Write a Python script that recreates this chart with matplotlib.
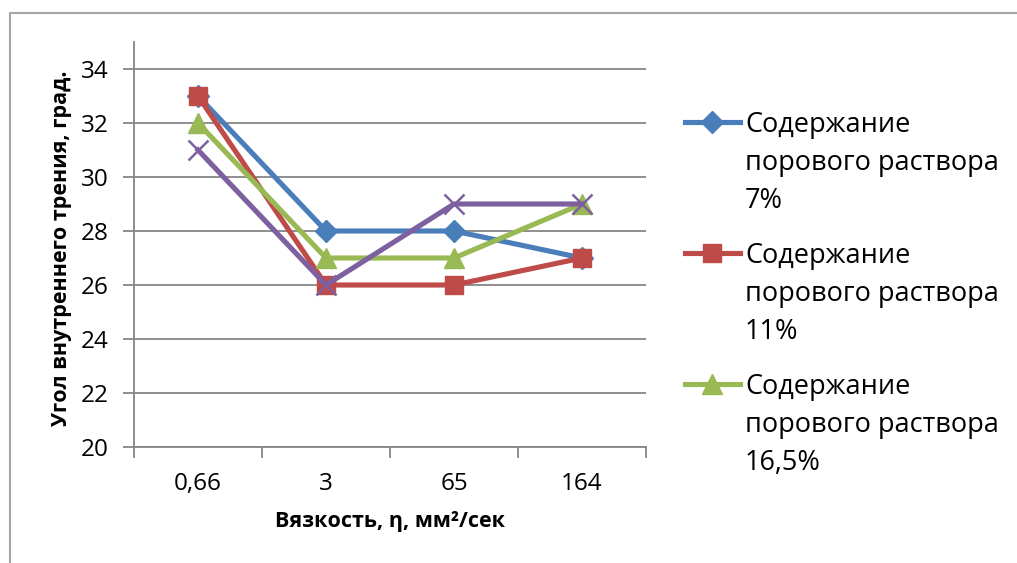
import matplotlib
matplotlib.use("Agg")
import matplotlib.pyplot as plt
from matplotlib.lines import Line2D
from matplotlib.patches import Rectangle

plt.rcParams['font.family'] = ['Open Sans', 'DejaVu Sans']

# Data
categories = ["0,66", "3", "65", "164"]
s7 = [33, 28, 28, 27]
s11 = [33, 26, 26, 27]
s165 = [32, 27, 27, 29]
s_extra = [31, 26, 29, 29]
legend_labels = [
    ["Содержание", "порового раствора", "7%"],
    ["Содержание", "порового раствора", "11%"],
    ["Содержание", "порового раствора", "16,5%"],
]
y_ticks = [20, 22, 24, 26, 28, 30, 32, 34]

W, H = 1017, 563
fig = plt.figure(figsize=(W / 100, H / 100), dpi=100)

# outer chart frame
fig.add_artist(Rectangle((10 / W, -0.1), 1.2, (H - 13) / H + 0.1,
                         transform=fig.transFigure, fill=False,
                         edgecolor="#A6A6A6", lw=1.5))

ax = fig.add_axes([134 / W, (H - 447) / H, 512 / W, 405 / H])

styles = [
    dict(color="#4A7EBB", marker="D", ms=11, mew=1),
    dict(color="#BE4B48", marker="s", ms=13.5, mew=1),
    dict(color="#98B954", marker="^", ms=14.5, mew=1),
    dict(color="#7D60A0", marker="x", ms=14, mew=1.8),
]
series = [s7, s11, s165, s_extra]
x = list(range(len(categories)))
for vals, st in zip(series, styles):
    ax.plot(x, vals, lw=3.7, color=st["color"], marker=st["marker"],
            ms=st["ms"], mew=st["mew"], mfc=st["color"], mec=st["color"],
            solid_joinstyle="round", clip_on=False, zorder=3)

ax.set_xlim(-0.5, len(categories) - 0.5)
ax.set_ylim(20, 35)
ax.set_yticks(y_ticks)
ax.tick_params(axis="y", length=8, width=1.3, color="#868686",
               labelsize=17.5, pad=10)
ax.grid(axis="y", color="#868686", lw=1.3)
ax.set_axisbelow(True)

# category boundaries carry ticks, category centres carry labels
ax.set_xticks([i - 0.5 for i in range(len(categories) + 1)])
ax.set_xticklabels([])
ax.set_xticks(x, minor=True)
ax.set_xticklabels(categories, minor=True)
ax.tick_params(axis="x", which="major", length=8, width=1.3, color="#868686")
ax.tick_params(axis="x", which="minor", length=0, labelsize=17.5, pad=18)

for side in ("top", "right"):
    ax.spines[side].set_visible(False)
for side in ("left", "bottom"):
    ax.spines[side].set_color("#868686")
    ax.spines[side].set_linewidth(1.3)

ax.set_ylabel("Угол внутреннего трения, град.", fontsize=15.5,
              fontweight="bold", va="center")
ax.yaxis.set_label_coords((62 - 134) / 512, 0.49)
ax.set_xlabel("Вязкость, η, мм²/сек", fontsize=15.5, fontweight="bold",
              va="center")
ax.xaxis.set_label_coords(0.5, (447 - 522) / 405)

# legend on the right
for i, (lines, st) in enumerate(zip(legend_labels, styles[:3])):
    yc = 122 + 131 * i
    fig.add_artist(Line2D([685 / W, 740 / W], [1 - yc / H, 1 - yc / H],
                          transform=fig.transFigure, color=st["color"], lw=3.7))
    fig.add_artist(Line2D([712 / W], [1 - yc / H], transform=fig.transFigure,
                          color=st["color"], marker=st["marker"], ms=st["ms"],
                          mfc=st["color"], mec=st["color"], lw=0))
    for j, txt in enumerate(lines):
        yb = 132 + 131 * i + 38 * j
        fig.text(745 / W, 1 - yb / H, txt, fontsize=19.5, va="baseline",
                 ha="left", color="black")

fig.savefig("out.png", dpi=100, facecolor="white")
